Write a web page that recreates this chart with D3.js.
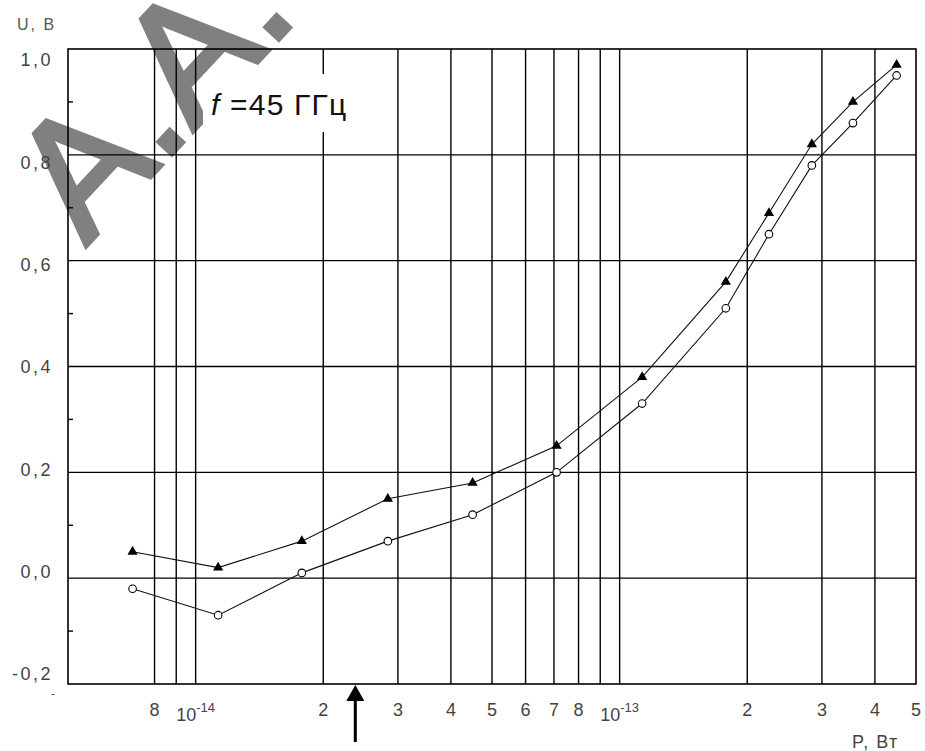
<!DOCTYPE html>
<html>
<head>
<meta charset="utf-8">
<script src="https://cdn.jsdelivr.net/npm/d3@7"></script>
<style>
  body { margin: 0; background: #fff; }
  text { font-family: "Liberation Sans", Arial, sans-serif; }
</style>
</head>
<body>
<div id="chart"></div>
<script>
// data: power P (W) and voltage U (V)
var powers = [7.1e-15, 1.13e-14, 1.78e-14, 2.84e-14, 4.5e-14, 7.1e-14, 1.13e-13, 1.78e-13, 2.25e-13, 2.84e-13, 3.55e-13, 4.5e-13];
var uTriangle = [0.05, 0.02, 0.07, 0.15, 0.18, 0.25, 0.38, 0.56, 0.69, 0.82, 0.90, 0.97];
var uCircle = [-0.02, -0.07, 0.01, 0.07, 0.12, 0.20, 0.33, 0.51, 0.65, 0.78, 0.86, 0.95];

// grid and tick labels
var xGrid = [8e-15, 9e-15, 1e-14, 2e-14, 3e-14, 4e-14, 5e-14, 6e-14, 7e-14, 8e-14, 9e-14, 1e-13, 2e-13, 3e-13, 4e-13];
var xLabels = [
  {v: 8e-15, t: "8"}, {v: 1e-14, t: "10", e: "-14"}, {v: 2e-14, t: "2"}, {v: 3e-14, t: "3"},
  {v: 4e-14, t: "4"}, {v: 5e-14, t: "5"}, {v: 6e-14, t: "6"}, {v: 7e-14, t: "7"},
  {v: 8e-14, t: "8"}, {v: 1e-13, t: "10", e: "-13"}, {v: 2e-13, t: "2"}, {v: 3e-13, t: "3"},
  {v: 4e-13, t: "4"}, {v: 5e-13, t: "5"}
];
var yGrid = [0.0, 0.2, 0.4, 0.6, 0.8];
var yMinor = [-0.1, 0.1, 0.3, 0.5, 0.7, 0.9];
var yLabels = [-0.2, 0.0, 0.2, 0.4, 0.6, 0.8, 1.0];
var arrowAt = 2.38e-14;

var width = 925, height = 751;

var svg = d3.select("#chart")
  .append("svg")
    .attr("width", width)
    .attr("height", height);

var x = d3.scaleLog()
  .domain([5e-15, 5e-13])
  .range([68, 916]);

var y = d3.scaleLinear()
  .domain([-0.2, 1.0])
  .range([684, 49]);

// labels on the left are spaced a bit tighter than the grid
var yLab = d3.scaleLinear()
  .domain([-0.2, 1.0])
  .range([674, 60]);

// watermark under everything
svg.append("text")
  .attr("transform", "translate(86,246) rotate(-47)")
  .style("font-size", "166px")
  .style("fill", "#808080")
  .style("stroke", "#808080")
  .style("stroke-width", 5)
  .style("stroke-linejoin", "miter")
  .text("А.А.");

// vertical grid lines
svg.selectAll(".vgrid")
  .data(xGrid)
  .enter()
  .append("line")
    .attr("x1", function(d) { return x(d); })
    .attr("x2", function(d) { return x(d); })
    .attr("y1", y(1.0))
    .attr("y2", y(-0.2))
    .attr("stroke", "#000")
    .attr("stroke-width", 1.4);

// horizontal grid lines
svg.selectAll(".hgrid")
  .data(yGrid)
  .enter()
  .append("line")
    .attr("x1", x(5e-15))
    .attr("x2", x(5e-13))
    .attr("y1", function(d) { return y(d); })
    .attr("y2", function(d) { return y(d); })
    .attr("stroke", "#000")
    .attr("stroke-width", 1.4);

// frame
svg.append("rect")
  .attr("x", x(5e-15))
  .attr("y", y(1.0))
  .attr("width", x(5e-13) - x(5e-15))
  .attr("height", y(-0.2) - y(1.0))
  .attr("fill", "none")
  .attr("stroke", "#000")
  .attr("stroke-width", 1.6);

// small ticks on the left axis
svg.selectAll(".minor")
  .data(yMinor)
  .enter()
  .append("line")
    .attr("x1", x(5e-15))
    .attr("x2", x(5e-15) + 5)
    .attr("y1", function(d) { return y(d); })
    .attr("y2", function(d) { return y(d); })
    .attr("stroke", "#000")
    .attr("stroke-width", 1.4);

// frequency label with white box
svg.append("rect")
  .attr("x", 203).attr("y", 74)
  .attr("width", 160).attr("height", 58)
  .attr("fill", "#fff");
var fl = svg.append("text")
  .attr("x", 211)
  .attr("y", 115)
  .style("font-size", "30px")
  .style("letter-spacing", "1.2px")
  .style("fill", "#111");
fl.append("tspan").style("font-style", "italic").text("f");
fl.append("tspan").text(" =45 ГГц");

// curves
var line = d3.line()
  .x(function(d) { return x(d[0]); })
  .y(function(d) { return y(d[1]); });

var triData = powers.map(function(p, i) { return [p, uTriangle[i]]; });
var cirData = powers.map(function(p, i) { return [p, uCircle[i]]; });

svg.append("path")
  .attr("d", line(triData))
  .attr("fill", "none")
  .attr("stroke", "#111")
  .attr("stroke-width", 1.1);

svg.append("path")
  .attr("d", line(cirData))
  .attr("fill", "none")
  .attr("stroke", "#111")
  .attr("stroke-width", 1.1);

svg.selectAll(".tri")
  .data(triData)
  .enter()
  .append("path")
    .attr("d", d3.symbol().type(d3.symbolTriangle).size(45))
    .attr("transform", function(d) { return "translate(" + x(d[0]) + "," + y(d[1]) + ")"; })
    .attr("fill", "#000");

svg.selectAll(".cir")
  .data(cirData)
  .enter()
  .append("circle")
    .attr("cx", function(d) { return x(d[0]); })
    .attr("cy", function(d) { return y(d[1]); })
    .attr("r", 3.8)
    .attr("fill", "#fff")
    .attr("stroke", "#000")
    .attr("stroke-width", 1.1);

// y tick labels
svg.selectAll(".ylab")
  .data(yLabels)
  .enter()
  .append("text")
    .attr("x", 53)
    .attr("y", function(d) { return yLab(d); })
    .attr("dy", "0.36em")
    .attr("text-anchor", "end")
    .style("font-size", "18px")
    .style("letter-spacing", "2.5px")
    .style("fill", "#444")
    .text(function(d) { return d3.format(".1f")(d).replace(".", ",").replace("−", "-"); });

// x tick labels
var xl = svg.selectAll(".xlab")
  .data(xLabels)
  .enter()
  .append("text")
    .attr("x", function(d) { return x(d.v); })
    .attr("y", function(d) { return d.e ? 721 : 716; })
    .attr("text-anchor", "middle")
    .style("font-size", "18px")
    .style("fill", "#444");
xl.append("tspan").text(function(d) { return d.t; });
xl.append("tspan")
  .attr("dy", -9)
  .style("font-size", "13px")
  .text(function(d) { return d.e || ""; });

// axis names
svg.append("text")
  .attr("x", 17).attr("y", 30)
  .style("font-size", "16px")
  .style("letter-spacing", "2px")
  .style("fill", "#555")
  .text("U, В");

svg.append("text")
  .attr("x", 852).attr("y", 748)
  .style("font-size", "18px")
  .style("letter-spacing", "1.5px")
  .style("fill", "#444")
  .text("P, Вт");

svg.append("text")
  .attr("x", 53).attr("y", 698)
  .attr("text-anchor", "middle")
  .style("font-size", "12px")
  .style("fill", "#555")
  .text("-");

// arrow pointing to the axis
var ax = x(arrowAt);
svg.append("line")
  .attr("x1", ax).attr("x2", ax)
  .attr("y1", 698).attr("y2", 742)
  .attr("stroke", "#000")
  .attr("stroke-width", 3);
svg.append("path")
  .attr("d", d3.line()([[ax, 685], [ax - 9, 701], [ax + 9, 701]]) + "Z")
  .attr("fill", "#000");
</script>
</body>
</html>
